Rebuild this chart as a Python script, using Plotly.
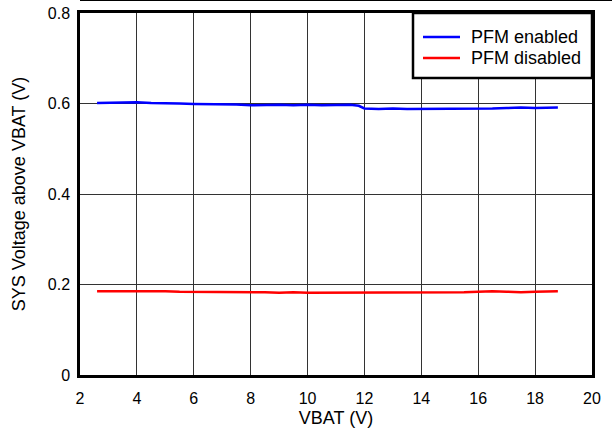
import plotly.graph_objects as go

vbat_enabled = [2.6, 3.0, 3.5, 4.0, 4.5, 5.0, 5.5, 6.0, 6.5, 7.0, 7.5, 8.0, 8.5, 9.0, 9.5,
                10.0, 10.5, 11.0, 11.5, 11.8, 12.0, 12.5, 13.0, 13.5, 14.0, 14.5, 15.0,
                15.5, 16.0, 16.5, 17.0, 17.5, 18.0, 18.5, 18.8]
sys_enabled = [0.601, 0.602, 0.603, 0.603, 0.601, 0.601, 0.600, 0.599, 0.599, 0.598, 0.598,
               0.596, 0.597, 0.597, 0.596, 0.597, 0.596, 0.597, 0.597, 0.595, 0.589, 0.588,
               0.589, 0.588, 0.588, 0.589, 0.588, 0.588, 0.588, 0.589, 0.590, 0.591, 0.590,
               0.591, 0.591]

vbat_disabled = [2.6, 3.0, 3.5, 4.0, 4.5, 5.0, 5.5, 6.0, 6.5, 7.0, 7.5, 8.0, 8.5, 9.0, 9.5,
                 10.0, 10.5, 11.0, 11.5, 12.0, 12.5, 13.0, 13.5, 14.0, 14.5, 15.0, 15.5,
                 16.0, 16.5, 17.0, 17.5, 18.0, 18.5, 18.8]
sys_disabled = [0.185, 0.185, 0.186, 0.186, 0.185, 0.185, 0.184, 0.184, 0.183, 0.184, 0.183,
                0.183, 0.183, 0.182, 0.183, 0.182, 0.182, 0.183, 0.182, 0.183, 0.182, 0.182,
                0.182, 0.183, 0.183, 0.183, 0.183, 0.184, 0.185, 0.184, 0.183, 0.184, 0.185,
                0.185]

series_names = ["PFM enabled", "PFM disabled"]
series_colors = ["#0000ff", "#ff0000"]

x_ticks = [2, 4, 6, 8, 10, 12, 14, 16, 18, 20]
y_ticks = [0, 0.2, 0.4, 0.6, 0.8]
y_tick_labels = ["0", "0.2", "0.4", "0.6", "0.8"]

FONT = "Liberation Sans, Arial, Helvetica, sans-serif"

fig = go.Figure()
fig.add_trace(go.Scatter(x=vbat_enabled, y=sys_enabled, mode="lines", name=series_names[0],
                         line=dict(color=series_colors[0], width=2.5)))
fig.add_trace(go.Scatter(x=vbat_disabled, y=sys_disabled, mode="lines", name=series_names[1],
                         line=dict(color=series_colors[1], width=2.5)))

W, H = 612, 432
L, R, T, B = 80, 20, 13, 57
pw, ph = W - L - R, H - T - B

def px_x(p):
    return (p - L) / pw

def px_y(p):
    return (H - B - p) / ph

shapes = [
    dict(type="rect", xref="paper", yref="paper",
         x0=px_x(413), x1=1, y0=px_y(78), y1=1,
         line=dict(color="black", width=2.5), fillcolor="white", layer="above"),
    dict(type="line", xref="paper", yref="paper",
         x0=px_x(80), x1=px_x(612), y0=px_y(0.5), y1=px_y(0.5),
         line=dict(color="black", width=1)),
]
annotations = []
legend_rows = [37, 58]
for name, color, ry in zip(series_names, series_colors, legend_rows):
    shapes.append(dict(type="line", xref="paper", yref="paper",
                       x0=px_x(423), x1=px_x(460), y0=px_y(ry), y1=px_y(ry),
                       line=dict(color=color, width=2.5), layer="above"))
    annotations.append(dict(text=name, xref="paper", yref="paper",
                            x=px_x(469), y=px_y(ry), xanchor="left", yanchor="middle",
                            showarrow=False, font=dict(family=FONT, size=18, color="black")))

fig.update_layout(
    width=W, height=H, autosize=False,
    margin=dict(l=L, r=R, t=T, b=B, pad=0, autoexpand=False),
    paper_bgcolor="white", plot_bgcolor="white",
    font=dict(family=FONT, size=16, color="black"),
    showlegend=False,
    xaxis=dict(range=[2, 20], tickvals=x_ticks, ticks="", showgrid=True,
               gridcolor="#333333", gridwidth=1, zeroline=False,
               showline=True, mirror=True, linecolor="black", linewidth=2.5,
               ticklabelstandoff=7,
               title=dict(text="VBAT (V)", standoff=6, font=dict(size=18)),
               tickfont=dict(size=16), automargin=False),
    yaxis=dict(range=[0, 0.8], tickvals=y_ticks, ticktext=y_tick_labels, ticks="",
               showgrid=True, gridcolor="#333333", gridwidth=1, zeroline=False,
               showline=True, mirror=True, linecolor="black", linewidth=2.5,
               ticklabelstandoff=4,
               title=dict(text="SYS Voltage above VBAT (V)", standoff=18, font=dict(size=18)),
               tickfont=dict(size=16), automargin=False),
    shapes=shapes,
    annotations=annotations,
)

fig.write_html("out.html", config={"displayModeBar": False},
               post_script="document.body.style.margin='0';document.body.style.overflow='hidden';")
